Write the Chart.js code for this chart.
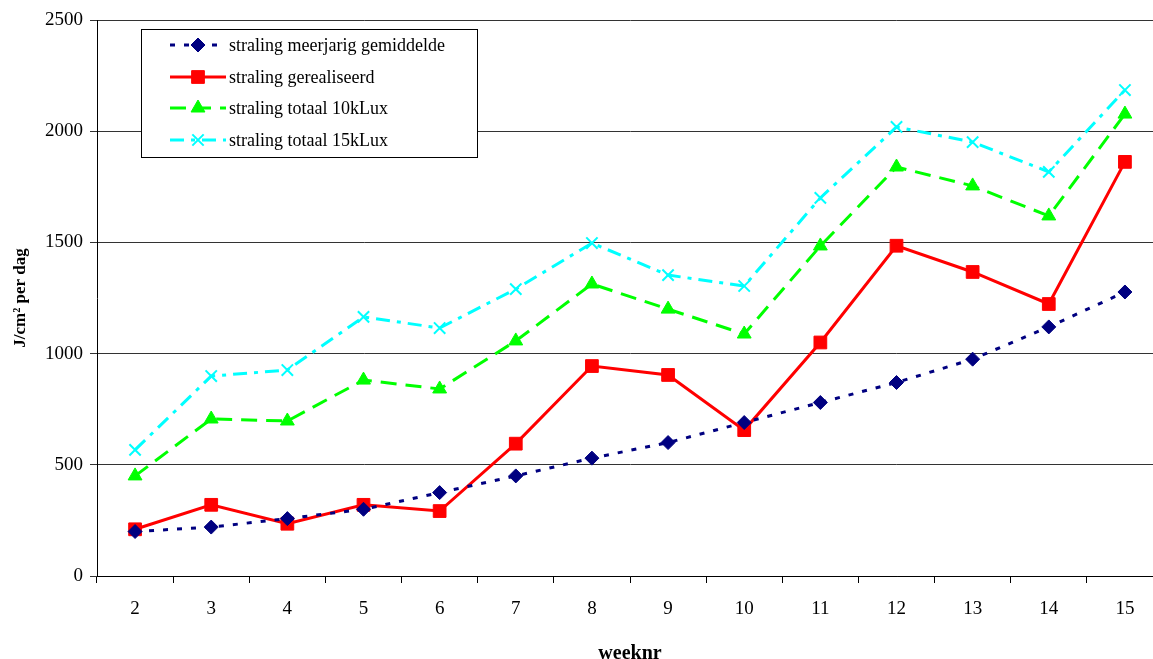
<!DOCTYPE html>
<html lang="nl">
<head>
    <meta charset="UTF-8">
    <title>Straling</title>
    <style>
        html, body { margin: 0; background: #fff; overflow: hidden; }
        #wrap { width: 1163px; height: 659px; }
    </style>
</head>
<body>
    <!-- het plotgebied loopt in het origineel iets voorbij de rechterrand -->
    <div id="wrap">
        <canvas id="myChart" width="1163" height="659"></canvas>
    </div>

    <script src="https://cdn.jsdelivr.net/npm/chart.js"></script>

    <script>
        // weeknummers en stralingswaarden (J/cm2 per dag)
        const weeks = ['2', '3', '4', '5', '6', '7', '8', '9', '10', '11', '12', '13', '14', '15'];
        const meerjarig = [200, 220, 258, 300, 375, 450, 530, 600, 690, 780, 870, 975, 1120, 1277];
        const gerealiseerd = [210, 320, 235, 320, 292, 595, 944, 904, 656, 1050, 1485, 1367, 1223, 1862];
        const totaal10k = [450, 706, 697, 881, 841, 1057, 1313, 1200, 1088, 1484, 1839, 1754, 1619, 2077];
        const totaal15k = [567, 899, 926, 1165, 1115, 1290, 1497, 1353, 1304, 1700, 2019, 1951, 1817, 2185];
        const yTicks = [0, 500, 1000, 1500, 2000, 2500];

        const serif = "'Liberation Serif', 'Times New Roman', serif";

        function drawShape(c, ds, x, y) {
            c.fillStyle = ds.pointBackgroundColor;
            c.strokeStyle = ds.pointBorderColor;
            c.lineWidth = ds.pointBorderWidth || 1;
            Chart.helpers.drawPoint(c, {
                pointStyle: ds.pointStyle,
                radius: ds.pointRadius,
                rotation: 0,
                borderWidth: ds.pointBorderWidth || 1
            }, x, y);
        }

        // legenda in een kader binnen het plotgebied
        const boxLegend = {
            id: 'boxLegend',
            afterDraw(chart) {
                const c = chart.ctx;
                const x0 = 141, y0 = 29, w = 336, h = 128;
                c.save();
                c.fillStyle = '#fff';
                c.fillRect(x0, y0, w, h);
                c.strokeStyle = '#000';
                c.lineWidth = 1;
                c.strokeRect(x0 + 0.5, y0 + 0.5, w, h);
                const rows = [45, 77, 108, 140];
                chart.data.datasets.forEach((ds, i) => {
                    const y = rows[i];
                    c.strokeStyle = ds.borderColor;
                    c.lineWidth = ds.borderWidth;
                    c.setLineDash(ds.borderDash || []);
                    c.beginPath();
                    c.moveTo(170, y);
                    c.lineTo(226, y);
                    c.stroke();
                    c.setLineDash([]);
                    drawShape(c, ds, 198, y);
                    c.fillStyle = '#000';
                    c.font = '18px ' + serif;
                    c.textBaseline = 'middle';
                    c.textAlign = 'left';
                    c.fillText(ds.label, 229, y + 1);
                });
                c.restore();
            }
        };

        new Chart(document.getElementById('myChart'), {
            type: 'line',
            data: {
                labels: weeks,
                datasets: [{
                    label: 'straling meerjarig gemiddelde',
                    data: meerjarig,
                    borderColor: '#000080',
                    borderWidth: 3,
                    borderDash: [5, 9],
                    pointStyle: 'rectRot',
                    pointRadius: 7,
                    pointBackgroundColor: '#000080',
                    pointBorderColor: '#000080',
                    pointBorderWidth: 1
                }, {
                    label: 'straling gerealiseerd',
                    data: gerealiseerd,
                    borderColor: '#ff0000',
                    borderWidth: 3,
                    pointStyle: 'rect',
                    pointRadius: 9,
                    pointBackgroundColor: '#ff0000',
                    pointBorderColor: '#ff0000',
                    pointBorderWidth: 1
                }, {
                    label: 'straling totaal 10kLux',
                    data: totaal10k,
                    borderColor: '#00ff00',
                    borderWidth: 3,
                    borderDash: [16, 9],
                    pointStyle: 'triangle',
                    pointRadius: 8,
                    pointBackgroundColor: '#00ff00',
                    pointBorderColor: '#00ff00',
                    pointBorderWidth: 1
                }, {
                    label: 'straling totaal 15kLux',
                    data: totaal15k,
                    borderColor: '#00ffff',
                    borderWidth: 3,
                    borderDash: [14, 7, 4, 7],
                    pointStyle: 'crossRot',
                    pointRadius: 8,
                    pointBackgroundColor: '#00ffff',
                    pointBorderColor: '#00ffff',
                    pointBorderWidth: 2
                }]
            },
            options: {
                responsive: false,
                animation: false,
                layout: { autoPadding: false, padding: { top: 20, right: 0, left: 0, bottom: 0 } },
                plugins: {
                    legend: { display: false },
                    tooltip: { enabled: false }
                },
                scales: {
                    x: {
                        offset: true,
                        grid: {
                            offset: true,
                            drawOnChartArea: false,
                            tickLength: 7,
                            color: '#000'
                        },
                        border: { color: '#000', width: 1 },
                        ticks: {
                            color: '#000',
                            font: { family: serif, size: 19 },
                            padding: 15
                        },
                        title: {
                            display: true,
                            text: 'weeknr',
                            color: '#000',
                            font: { family: serif, size: 20, weight: 'bold', lineHeight: 1 },
                            padding: { top: 8, bottom: -5 }
                        },
                        afterFit(axis) { axis.height = 83; }
                    },
                    y: {
                        min: 0,
                        max: 2500,
                        afterBuildTicks(axis) { axis.ticks = yTicks.map(v => ({ value: v })); },
                        grid: {
                            color: '#333',
                            tickLength: 7
                        },
                        border: { color: '#000', width: 1 },
                        ticks: {
                            color: '#000',
                            font: { family: serif, size: 19 },
                            padding: 7,
                            callback: v => String(v)
                        },
                        title: {
                            display: true,
                            text: 'J/cm² per dag',
                            color: '#000',
                            font: { family: serif, size: 17, weight: 'bold', lineHeight: 1 },
                            padding: { top: 12, bottom: 0 }
                        },
                        afterFit(axis) { axis.width = 97; }
                    }
                }
            },
            plugins: [boxLegend]
        });
    </script>
</body>
</html>
